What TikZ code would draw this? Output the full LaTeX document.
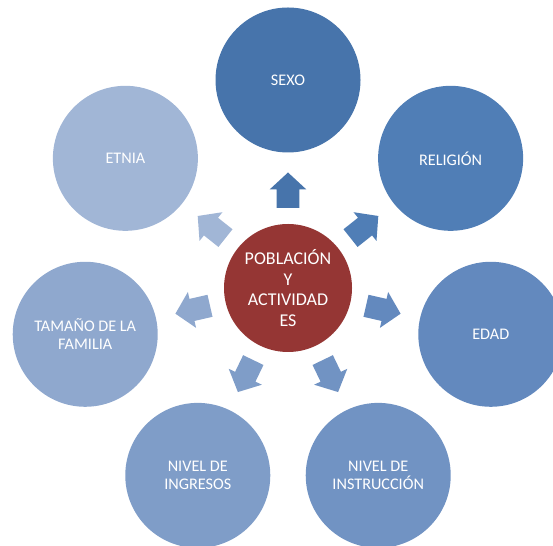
\documentclass[tikz,border=0pt]{standalone}
\usepackage{fontspec}
\setmainfont{Carlito}
\usetikzlibrary{calc}
\definecolor{hubred}{RGB}{149,54,52}
\definecolor{cA}{RGB}{71,116,171}
\definecolor{cB}{RGB}{80,126,182}
\definecolor{cC}{RGB}{99,137,190}
\definecolor{cD}{RGB}{113,147,195}
\definecolor{cE}{RGB}{127,157,200}
\definecolor{cF}{RGB}{143,168,206}
\definecolor{cG}{RGB}{161,182,214}
\begin{document}
\begin{tikzpicture}[x=1pt,y=1pt,
  outer/.style={circle,minimum size=145pt,inner sep=0pt,text=white,
    font=\fontsize{16.2}{18.5}\selectfont,align=center},
  hub/.style={circle,minimum size=128pt,inner sep=0pt,fill=hubred,text=white,
    font=\fontsize{18}{20.7}\selectfont,align=center},
  blockarrow/.style={fill=#1}]
\useasboundingbox (0,0) rectangle (553,545);
\clip (0,0) rectangle (553,545);
\node[hub] (c) at (288,257) {POBLACIÓN\\Y\\ACTIVIDAD\\ES};
\node[outer,fill=cA] (sexo)  at ($(c.center)+(90:208)$) {SEXO};
\node[outer,fill=cB] (relig) at ($(c.center)+(38.57:208)$) {RELIGIÓN};
\node[outer,fill=cC] (edad)  at ($(c.center)+(-12.86:208)$) {EDAD};
\node[outer,fill=cD] (instr) at ($(c.center)+(-64.29:208)$) {NIVEL DE\\INSTRUCCIÓN};
\node[outer,fill=cE] (ingr)  at ($(c.center)+(-115.71:208)$) {NIVEL DE\\INGRESOS};
\node[outer,fill=cF] (tam)   at ($(c.center)+(-167.14:208)$) {TAMAÑO DE LA\\FAMILIA};
\node[outer,fill=cG] (etnia) at ($(c.center)+(141.43:208)$) {ETNIA};
\foreach \a/\col in {90/cA,38.57/cB,-12.86/cC,-64.29/cD,-115.71/cE,-167.14/cF,141.43/cG}{
  \begin{scope}[shift={(c.center)},rotate=\a]
    \fill[blockarrow=\col] (80,-11.3) -- (98.5,-11.3) -- (98.5,-18.4) -- (115.5,0)
      -- (98.5,18.4) -- (98.5,11.3) -- (80,11.3) -- cycle;
  \end{scope}
}
\end{tikzpicture}
\end{document}
